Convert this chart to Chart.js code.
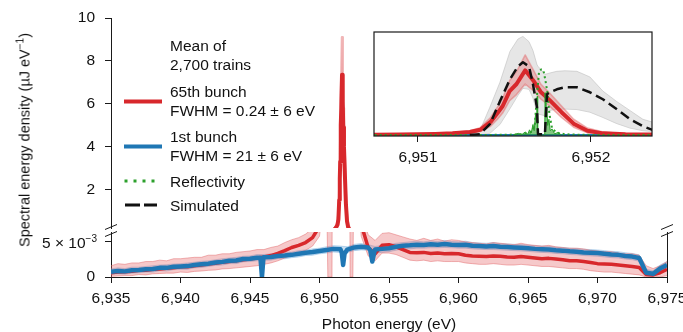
<!DOCTYPE html>
<html>
<head>
<meta charset="utf-8">
<script src="https://cdn.jsdelivr.net/npm/chart.js@4.4.1/dist/chart.umd.min.js"></script>
<style>
  body { margin: 0; background: #fff; }
  #wrap { position: relative; width: 683px; height: 332px; overflow: hidden; font-family: "Liberation Sans", Arial, sans-serif; color: #111; }
  #wrap canvas { position: absolute; }
  .txt { position: absolute; white-space: nowrap; font-size: 15.5px; line-height: 19px; }
  .txt sup { font-size: 10px; line-height: 0; vertical-align: 6px; }
</style>
</head>
<body>
<div id="wrap">
  <canvas id="low" width="683" height="332" style="left:0;top:0"></canvas>
  <canvas id="high" width="683" height="240" style="left:0;top:0"></canvas>
  <canvas id="inset" width="340" height="160" style="left:334px;top:22px"></canvas>

  <div class="txt" style="left:25px;top:140px;font-size:14.5px;transform:translate(-50%,-50%) rotate(-90deg)">Spectral energy density (µJ eV<sup>−1</sup>)</div>
  <div class="txt" style="left:389px;top:323px;transform:translate(-50%,-50%)">Photon energy (eV)</div>
  <div class="txt" style="right:586px;top:232.5px">5 × 10<sup>−3</sup></div>

  <div class="txt" style="left:170px;top:35.5px">Mean of<br>2,700 trains</div>
  <div class="txt" style="left:170px;top:81.5px">65th bunch<br>FWHM = 0.24 ± 6 eV</div>
  <div class="txt" style="left:170px;top:126.5px">1st bunch<br>FWHM = 21 ± 6 eV</div>
  <div class="txt" style="left:170px;top:171.5px">Reflectivity</div>
  <div class="txt" style="left:170px;top:195.5px">Simulated</div>
</div>
<script>
// photon energy grid of the broad spectrum (eV)
const energy = [
  6935, 6935.5, 6936, 6936.5, 6937, 6937.5, 6938, 6938.5, 6939, 6939.5,
  6940, 6940.5, 6941, 6941.5, 6942, 6942.5, 6943, 6943.5, 6944, 6944.5,
  6945, 6945.5, 6946, 6946.5, 6947, 6947.5, 6948, 6948.5, 6949, 6949.5,
  6950, 6950.5, 6951, 6951.5, 6952, 6952.5, 6953, 6953.5, 6954, 6954.5,
  6955, 6955.5, 6956, 6956.5, 6957, 6957.5, 6958, 6958.5, 6959, 6959.5,
  6960, 6960.5, 6961, 6961.5, 6962, 6962.5, 6963, 6963.5, 6964, 6964.5,
  6965, 6965.5, 6966, 6966.5, 6967, 6967.5, 6968, 6968.5, 6969, 6969.5,
  6970, 6970.5, 6971, 6971.5, 6972, 6972.5, 6973, 6973.5, 6974, 6974.5,
  6975
];

// 1st bunch, units of 1e-3 µJ/eV
const blue = [
  0.75, 0.85, 0.8, 0.95, 1.0, 1.1, 1.15, 1.3, 1.3, 1.45,
  1.5, 1.55, 1.7, 1.8, 1.9, 2.05, 2.15, 2.3, 2.35, 2.55,
  2.6, 2.75, 2.8, 2.85, 3.0, 3.05, 3.15, 3.3, 3.45, 3.55,
  3.7, 3.85, 4.0, 3.95, 3.9, 4.2, 4.3, 4.2, 3.9, 4.0,
  4.1, 4.3, 4.45, 4.5, 4.6, 4.55, 4.65, 4.6, 4.7, 4.6,
  4.55, 4.6, 4.45, 4.4, 4.35, 4.4, 4.3, 4.25, 4.2, 4.15,
  4.1, 4.0, 3.95, 3.9, 3.8, 3.75, 3.65, 3.6, 3.5, 3.45,
  3.4, 3.3, 3.2, 3.15, 3.0, 2.9, 2.7, 0.6, 0.45, 1.2,
  1.7
];
const blueHi = [
  1.15, 1.3, 1.2, 1.4, 1.4, 1.5, 1.6, 1.7, 1.75, 1.85,
  1.9, 2.0, 2.1, 2.25, 2.3, 2.45, 2.6, 2.7, 2.8, 2.95,
  3.0, 3.2, 3.2, 3.3, 3.4, 3.5, 3.55, 3.75, 3.85, 4.0,
  4.1, 4.3, 4.45, 4.4, 4.3, 4.65, 4.75, 4.6, 4.35, 4.5,
  4.6, 4.8, 4.9, 5.0, 5.1, 5.0, 5.15, 5.05, 5.2, 5.05,
  5.0, 5.1, 4.9, 4.85, 4.8, 4.9, 4.75, 4.7, 4.65, 4.6,
  4.55, 4.45, 4.4, 4.35, 4.25, 4.2, 4.1, 4.05, 3.95, 3.9,
  3.85, 3.75, 3.65, 3.6, 3.45, 3.35, 3.15, 1.1, 0.9, 1.7,
  2.2
];
const blueLo = [
  0.35, 0.45, 0.4, 0.55, 0.6, 0.7, 0.7, 0.9, 0.85, 1.05,
  1.1, 1.1, 1.3, 1.35, 1.5, 1.65, 1.7, 1.9, 1.9, 2.15,
  2.2, 2.3, 2.4, 2.4, 2.6, 2.6, 2.75, 2.85, 3.05, 3.1,
  3.3, 3.4, 3.55, 3.5, 3.5, 3.75, 3.85, 3.8, 3.45, 3.5,
  3.6, 3.8, 4.0, 4.0, 4.1, 4.1, 4.15, 4.15, 4.2, 4.15,
  4.1, 4.1, 4.0, 3.95, 3.9, 3.9, 3.85, 3.8, 3.75, 3.7,
  3.65, 3.55, 3.5, 3.45, 3.35, 3.3, 3.2, 3.15, 3.05, 3.0,
  2.95, 2.85, 2.75, 2.7, 2.55, 2.45, 2.25, 0.2, 0.05, 0.7,
  1.2
];
// narrow absorption dips of the 1st bunch
const blueDipEnergy = [6945.75, 6945.86, 6945.97, 6951.6, 6951.7, 6951.8, 6953.65, 6953.8, 6953.95];
const blueDip = [2.75, 0, 2.8, 3.5, 1.7, 3.3, 3.8, 2.2, 3.6];

// 65th bunch, units of 1e-3 µJ/eV (peak itself in the arrays below)
const red = [
  0.6, 0.7, 0.75, 0.8, 0.95, 0.95, 1.1, 1.15, 1.25, 1.3,
  1.45, 1.45, 1.6, 1.7, 1.85, 1.95, 2.1, 2.2, 2.3, 2.45,
  2.55, 2.7, 2.85, 3.05, 3.35, 3.75, 4.2, 4.5, 4.9, 5.6,
  7.2, 20, null, null, null, 30, 7.5, 4.2, 3.3, 4.5,
  4.6, 4.3, 3.9, 3.5, 3.45, 3.5, 3.35, 3.4, 3.3, 3.35,
  3.3, 3.1, 3.0, 2.95, 2.9, 3.0, 2.95, 2.85, 2.8, 2.9,
  2.8, 2.7, 2.6, 2.65, 2.55, 2.45, 2.3, 2.3, 2.2, 2.05,
  1.9, 1.85, 1.8, 1.7, 1.6, 1.5, 1.35, 0.35, 0.3, 0.6,
  1.1
];
const redHi = [
  1.6, 1.9, 1.8, 2.0, 2.0, 2.2, 2.2, 2.4, 2.3, 2.6,
  2.6, 2.7, 2.8, 2.8, 3.1, 3.1, 3.3, 3.3, 3.5, 3.6,
  3.7, 3.9, 3.9, 4.2, 4.4, 4.9, 5.3, 5.6, 6.1, 6.9,
  9.0, 26, null, null, null, 40, 9.5, 6.0, 5.2, 6.2,
  6.3, 6.0, 5.7, 5.4, 5.2, 5.5, 5.2, 5.4, 5.1, 5.3,
  5.2, 5.0, 4.9, 4.8, 4.7, 4.9, 4.8, 4.7, 4.6, 4.8,
  4.6, 4.5, 4.4, 4.5, 4.3, 4.2, 4.1, 4.1, 4.0, 3.8,
  3.7, 3.6, 3.6, 3.4, 3.3, 3.3, 3.1, 1.6, 1.2, 1.6,
  2.2
];
const redLo = [
  0.1, 0.15, 0.2, 0.2, 0.35, 0.3, 0.45, 0.5, 0.55, 0.55,
  0.7, 0.65, 0.8, 0.85, 0.95, 1.0, 1.15, 1.2, 1.3, 1.4,
  1.5, 1.6, 1.8, 2.0, 2.3, 2.7, 3.1, 3.4, 3.8, 4.4,
  5.8, 14, null, null, null, 20, 5.8, 3.0, 2.3, 3.4,
  3.4, 3.2, 2.8, 2.4, 2.3, 2.4, 2.2, 2.3, 2.2, 2.2,
  2.2, 2.0, 1.9, 1.8, 1.8, 1.9, 1.8, 1.7, 1.7, 1.8,
  1.7, 1.6, 1.5, 1.5, 1.4, 1.3, 1.2, 1.2, 1.1, 0.9,
  0.8, 0.7, 0.7, 0.6, 0.5, 0.4, 0.3, 0.0, 0.0, 0.0,
  0.2
];

// 65th bunch peak, µJ/eV
const peakEnergy = [6950.6, 6950.75, 6950.9, 6951.0, 6951.1, 6951.2, 6951.3, 6951.36, 6951.42, 6951.46, 6951.49, 6951.53,
  6951.57, 6951.62, 6951.67, 6951.71, 6951.76, 6951.83, 6951.9, 6951.98, 6952.07, 6952.2, 6952.3, 6952.4];
const peakRed = [0.035, 0.05, 0.07, 0.1, 0.14, 0.22, 0.35, 0.6, 1.5, 2.5, 3.3, 5.0,
  5.8, 7.35, 6.1, 4.9, 4.0, 2.6, 1.3, 0.5, 0.2, 0.1, 0.07, 0.05];
const peakRedHi = [0.05, 0.07, 0.1, 0.14, 0.19, 0.3, 0.5, 0.85, 2.0, 3.2, 4.2, 6.2,
  7.2, 9.1, 7.3, 5.8, 4.8, 3.3, 1.8, 0.8, 0.35, 0.16, 0.11, 0.08];
const peakRedLo = [0, 0, 0, 0.07, 0.09, 0.15, 0.22, 0.4, 1.0, 1.8, 2.5, 3.9,
  4.6, 5.8, 5.0, 4.1, 3.3, 2.0, 0.9, 0.25, 0.08, 0, 0, 0];

// simulated spectrum (inset), µJ/eV
const simEnergy = [6951.3, 6951.358, 6951.416, 6951.474, 6951.532, 6951.578, 6951.607, 6951.642, 6951.665, 6951.688, 6951.694, 6951.734,
  6951.746, 6951.763, 6951.803, 6951.85, 6951.919, 6951.994, 6952.069, 6952.15, 6952.225, 6952.3, 6952.358];
const simulated = [0, 0.11, 1.24, 3.85, 6.33, 7.8, 8.26, 7.8, 5.77, 3.17, 0.11, 0.11,
  4.64, 4.86, 5.2, 5.43, 5.43, 4.86, 4.07, 2.94, 1.81, 1.02, 0.57];
const simHi = [0.1, 0.5, 3.17, 6.0, 9.5, 10.9, 11.2, 10.6, 9.6, 8.0, 7.8, 6.9,
  6.95, 7.05, 7.24, 7.3, 7.24, 6.6, 5.0, 3.8, 2.8, 1.8, 1.47];
const simLo = [0, 0, 0.2, 1.2, 3.0, 4.5, 5.3, 5.2, 4.2, 2.6, 2.4, 2.2,
  2.5, 2.8, 2.95, 2.95, 2.9, 2.6, 2.0, 1.3, 0.8, 0.5, 0.4];

// reflectivity (inset)
const reflEnergy = [6950.75, 6951.5, 6951.6, 6951.65, 6951.675, 6951.688, 6951.7, 6951.712, 6951.725, 6951.737, 6951.748,
  6951.76, 6951.775, 6951.8, 6951.85, 6951.95, 6952.35];
const reflectivity = [0, 0.03, 0.1, 0.3, 1.0, 4.5, 7.2, 7.45, 7.4, 6.2, 4.9, 2.4, 0.8, 0.3, 0.1, 0.03, 0];
const reflPointEnergy = [6951.55, 6951.58, 6951.6, 6951.62, 6951.635, 6951.645, 6951.655, 6951.665, 6951.672, 6951.68, 6951.686,
  6951.69, 6951.692, 6951.733, 6951.735, 6951.74, 6951.745, 6951.75, 6951.757, 6951.765, 6951.775, 6951.79, 6951.81, 6951.83];
const reflPoints = [0, 0.2, 0.05, 0.35, 0.1, 0.6, 0.25, 1.2, 0.5, 2.4, 1.5,
  4.4, 0, 0, 4.8, 2.0, 3.2, 1.1, 1.8, 0.5, 0.7, 0.15, 0.3, 0];

// ticks
const xTicks = [6935, 6940, 6945, 6950, 6955, 6960, 6965, 6970, 6975];
const insetTicks = [6951, 6952];
const highTicks = [2, 4, 6, 8, 10];
const lowTicks = [0, 0.005];

const RED = '#d8282c', BLUE = '#1f77b4', GREEN = '#2ca02c', AXIS = '#1a1a1a', TEXT = '#111';
const PINK = 'rgba(228, 92, 94, 0.33)', PINK_EDGE = 'rgba(228, 110, 112, 0.5)';
const SKY = 'rgba(95, 160, 215, 0.35)', SKY_EDGE = 'rgba(120, 175, 222, 0.45)';
const GREY = 'rgba(200, 200, 200, 0.45)', GREY_EDGE = 'rgba(185, 185, 185, 0.55)';

Chart.defaults.font.family = '"Liberation Sans", Arial, sans-serif';
Chart.defaults.font.size = 15.5;
Chart.defaults.color = TEXT;

function toPoints(xs, ys, k) {
  return xs.map((x, i) => ({ x: x, y: ys[i] }))
    .filter(p => p.y !== null)
    .map(p => ({ x: p.x, y: p.y * k }));
}
function withPeak(gridYs, peakYs) {
  const a = peakEnergy[0], b = peakEnergy[peakEnergy.length - 1];
  return toPoints(energy, gridYs, 1e-3).filter(p => p.x < a || p.x > b)
    .concat(toPoints(peakEnergy, peakYs, 1))
    .sort((p, q) => p.x - q.x);
}
const redLine = withPeak(red, peakRed);
const redUpper = withPeak(redHi, peakRedHi);
const redLower = withPeak(redLo, peakRedLo);
const blueLine = toPoints(energy, blue, 1e-3).concat(toPoints(blueDipEnergy, blueDip, 1e-3)).sort((p, q) => p.x - q.x);
const blueUpper = toPoints(energy, blueHi, 1e-3);
const blueLower = toPoints(energy, blueLo, 1e-3);

const fmt = v => Number(v).toLocaleString('en-US');
const setTicks = list => s => { s.ticks = list.map(v => ({ value: v })); };
const fixY = w => s => { s.width = w; s.paddingTop = 0; s.paddingBottom = 0; };
const fixX = h => s => { s.height = h; s.paddingLeft = 0; s.paddingRight = 0; };

const base = {
  responsive: false, animation: false, devicePixelRatio: 1,
  elements: { point: { radius: 0 }, line: { tension: 0, borderJoinStyle: 'round' } },
  plugins: { legend: { display: false }, tooltip: { enabled: false } },
};

const brokenAxis = {
  id: 'brokenAxis',
  afterDraw(chart) {
    const { ctx, chartArea: a } = chart;
    ctx.save();
    ctx.strokeStyle = AXIS;
    ctx.lineWidth = 1;
    ctx.beginPath();
    ctx.moveTo(a.right + 0.5, a.top);
    ctx.lineTo(a.right + 0.5, a.bottom);
    ctx.stroke();
    [a.left, a.right].forEach(x => {
      [a.top - 5, a.top + 2].forEach(y => {
        ctx.beginPath();
        ctx.moveTo(x - 6, y + 2.5);
        ctx.lineTo(x + 6, y - 2.5);
        ctx.stroke();
      });
    });
    ctx.restore();
  }
};

const legendKeys = {
  id: 'legendKeys',
  afterDraw(chart) {
    const ctx = chart.ctx;
    ctx.save();
    const key = (y, x1, x2, color, width, dash) => {
      ctx.beginPath();
      ctx.setLineDash(dash);
      ctx.strokeStyle = color;
      ctx.lineWidth = width;
      ctx.moveTo(x1, y);
      ctx.lineTo(x2, y);
      ctx.stroke();
    };
    key(101.5, 124, 162, RED, 4, []);
    key(146.5, 124, 162, BLUE, 4, []);
    key(181, 124.5, 156, GREEN, 3, [3, 6]);
    key(205, 125, 157, '#111', 3, [15, 4]);
    ctx.restore();
  }
};

const insetBox = {
  id: 'insetBox',
  beforeDraw(chart) {
    const { ctx, chartArea: a } = chart;
    ctx.save();
    ctx.fillStyle = '#fff';
    ctx.fillRect(a.left, a.top, a.right - a.left, a.bottom - a.top);
    ctx.restore();
  },
  afterDraw(chart) {
    const { ctx, chartArea: a } = chart;
    ctx.save();
    ctx.strokeStyle = AXIS;
    ctx.lineWidth = 1.2;
    ctx.strokeRect(a.left, a.top, a.right - a.left, a.bottom - a.top);
    ctx.restore();
  }
};

// lower panel (10^-3 scale)
new Chart(document.getElementById('low'), {
  type: 'line',
  data: {
    datasets: [
      { data: blueLine, borderColor: BLUE, borderWidth: 4.5, order: 1 },
      { data: redLine, borderColor: RED, borderWidth: 3.5, order: 2 },
      { data: redUpper, borderColor: PINK_EDGE, borderWidth: 1, backgroundColor: PINK, fill: '+1', order: 3 },
      { data: redLower, borderColor: PINK_EDGE, borderWidth: 1, order: 4 },
      { data: blueUpper, borderColor: SKY_EDGE, borderWidth: 1, backgroundColor: SKY, fill: '+1', order: 5 },
      { data: blueLower, borderColor: SKY_EDGE, borderWidth: 1, order: 6 },
    ]
  },
  options: {
    ...base,
    layout: { padding: { left: 0, top: 232, right: 16, bottom: 0 } },
    scales: {
      x: {
        type: 'linear', min: 6935, max: 6975,
        afterBuildTicks: setTicks(xTicks), afterFit: fixX(55),
        grid: { drawOnChartArea: false, tickLength: 6, color: AXIS },
        border: { color: AXIS },
        ticks: { padding: 6, callback: fmt, maxRotation: 0, autoSkip: false }
      },
      y: {
        type: 'linear', min: 0, max: 0.0064,
        afterBuildTicks: setTicks(lowTicks), afterFit: fixY(111),
        grid: { drawOnChartArea: false, tickLength: 6, color: AXIS },
        border: { color: AXIS },
        ticks: { padding: 10, callback: v => (v === 0 ? '0' : '') }
      }
    }
  },
  plugins: [brokenAxis]
});

// upper panel
new Chart(document.getElementById('high'), {
  type: 'line',
  data: {
    datasets: [
      { data: redLine.slice(), borderColor: RED, borderWidth: 4, order: 1 },
      { data: redUpper.slice(), borderColor: PINK_EDGE, borderWidth: 2.5, backgroundColor: PINK, fill: '+1', order: 2 },
      { data: redLower.slice(), borderColor: PINK_EDGE, borderWidth: 1, order: 3 },
    ]
  },
  options: {
    ...base,
    layout: { padding: { left: 0, top: 18, right: 16, bottom: 12 } },
    scales: {
      x: { type: 'linear', min: 6935, max: 6975, display: false },
      y: {
        type: 'linear', min: 0.19, max: 10,
        afterBuildTicks: setTicks(highTicks), afterFit: fixY(111),
        grid: { drawOnChartArea: false, tickLength: 6, color: AXIS },
        border: { color: AXIS },
        ticks: { padding: 10 }
      }
    }
  },
  plugins: [legendKeys]
});

// inset zoom on the peak
new Chart(document.getElementById('inset'), {
  type: 'line',
  data: {
    datasets: [
      { data: toPoints(simEnergy, simulated, 1), borderColor: '#111', borderWidth: 2.5, borderDash: [10, 5], order: 1 },
      { data: toPoints(reflEnergy, reflectivity, 1), borderColor: GREEN, borderWidth: 2, borderDash: [2, 3], order: 2 },
      { data: toPoints(reflPointEnergy, reflPoints, 1), borderColor: GREEN, borderWidth: 1, backgroundColor: 'rgba(44, 160, 44, 0.6)', fill: 'origin', order: 3 },
      { data: redLine.slice(), borderColor: RED, borderWidth: 4, order: 4 },
      { data: blueLine.slice(), borderColor: BLUE, borderWidth: 2, order: 5 },
      { data: redUpper.slice(), borderColor: PINK_EDGE, borderWidth: 1.5, backgroundColor: PINK, fill: '+1', order: 6 },
      { data: redLower.slice(), borderColor: PINK_EDGE, borderWidth: 1.5, order: 7 },
      { data: toPoints(simEnergy, simHi, 1), borderColor: GREY_EDGE, borderWidth: 1, backgroundColor: GREY, fill: '+1', order: 8 },
      { data: toPoints(simEnergy, simLo, 1), borderColor: GREY_EDGE, borderWidth: 1, order: 9 },
    ]
  },
  options: {
    ...base,
    layout: { padding: { left: 40, top: 10, right: 22, bottom: 0 } },
    scales: {
      x: {
        type: 'linear', min: 6950.746, max: 6952.353,
        afterBuildTicks: setTicks(insetTicks), afterFit: fixX(46),
        grid: { drawOnChartArea: false, tickLength: 6, color: AXIS },
        border: { display: false },
        ticks: { padding: 6, callback: fmt, maxRotation: 0, autoSkip: false }
      },
      y: { type: 'linear', min: -0.1, max: 11.7, display: false }
    }
  },
  plugins: [insetBox]
});
</script>
</body>
</html>
